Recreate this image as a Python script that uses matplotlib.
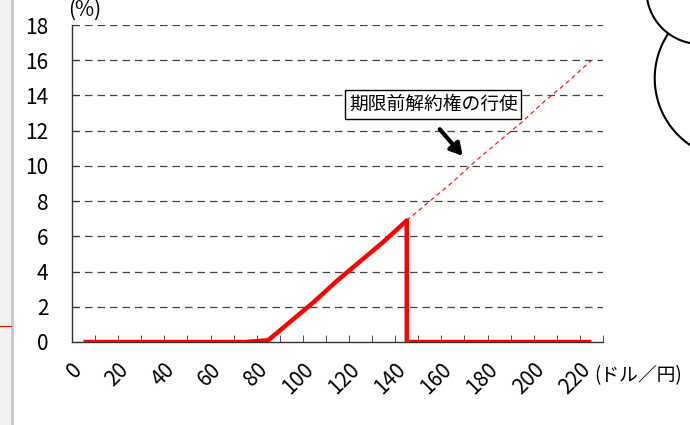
import numpy as np
import matplotlib.pyplot as plt
from matplotlib.lines import Line2D
from matplotlib.transforms import ScaledTranslation

plt.rcParams['font.family'] = ['Liberation Sans Narrow', 'Noto Sans CJK JP', 'DejaVu Sans']

# exchange rate categories (ドル／円)
rates = list(range(0, 230, 10))
tick_labels = [str(r) if r % 20 == 0 else '' for r in rates]

# solid line: value of the option, drops to 0 at 140 (early termination)
line_x = [0, 10, 20, 30, 40, 50, 60, 70, 80, 90, 100, 110, 120, 130, 140,
          140, 150, 160, 170, 180, 190, 200, 210, 220]
line_y = [0, 0, 0, 0, 0, 0, 0, 0, 0.1, 1.2, 2.3, 3.5, 4.6, 5.7, 6.9,
          0, 0, 0, 0, 0, 0, 0, 0, 0]

# dashed continuation without early termination
dash_x = [140, 150, 160, 170, 180, 190, 200, 210, 220]
dash_y = [6.9, 8.0, 9.1, 10.3, 11.4, 12.5, 13.7, 14.8, 16.0]


def idx(vals):
    return [v / 10 for v in vals]


fig = plt.figure(figsize=(6.9, 4.25), dpi=100)
ax = fig.add_axes([72 / 690, 1 - 342 / 425, 531 / 690, 317 / 425])

ax.plot(idx(dash_x), dash_y, color='red', lw=0.8, ls=(0, (4, 3)), zorder=2)
ax.plot(idx(line_x), line_y, color='red', lw=3.2, solid_capstyle='butt', zorder=3)

ax.set_xlim(-0.5, 22.5)
ax.set_ylim(0, 18)
ax.set_yticks(np.arange(0, 19, 2))
ax.tick_params(axis='y', direction='in', length=5, labelsize=15, pad=17, color='#333333')
ax.set_xticks(np.arange(len(rates)))
ax.set_xticklabels(tick_labels, rotation=45, ha='right', va='top',
                   rotation_mode='anchor', fontsize=15)
ax.tick_params(axis='x', which='major', length=0, pad=12)
ax.set_xticks(np.arange(-0.5, 23, 1), minor=True)
ax.tick_params(axis='x', which='minor', direction='in', length=5, color='#333333')
shift = ScaledTranslation(-0.12, 0, fig.dpi_scale_trans)
for lab in ax.get_xticklabels():
    lab.set_transform(lab.get_transform() + shift)

for v in range(2, 19, 2):
    ax.axhline(v, color='#444444', lw=0.9, ls=(0, (6, 4)), zorder=1)

for s in ['top', 'right']:
    ax.spines[s].set_visible(False)
for s in ['left', 'bottom']:
    ax.spines[s].set_color('#333333')
    ax.spines[s].set_linewidth(1)

ax.text(15.15, 13.5, '期限前解約権の行使', fontsize=13.5, ha='center', va='center',
        family=['Noto Sans CJK JP', 'DejaVu Sans'],
        bbox=dict(boxstyle='square,pad=0.2', fc='white', ec='black', lw=1), zorder=5)
ax.annotate('', xy=(16.5, 10.45), xytext=(15.35, 12.2),
            arrowprops=dict(arrowstyle='-|>,head_length=0.7,head_width=0.4',
                            color='black', lw=3), zorder=5)

fig.text(68 / 690, 1 - 10 / 425, '(%)', fontsize=15, ha='left', va='center')
fig.text(594 / 690, 1 - 376 / 425, '(ドル／円)', fontsize=13.5, ha='left', va='center',
         family=['Noto Sans CJK JP', 'DejaVu Sans'])


# decorative speech-bubble arcs on the right edge
def circle_arc(p1, p2, p3, n=60):
    (x1, y1), (x2, y2), (x3, y3) = p1, p2, p3
    d = 2 * (x1 * (y2 - y3) + x2 * (y3 - y1) + x3 * (y1 - y2))
    ux = ((x1**2 + y1**2) * (y2 - y3) + (x2**2 + y2**2) * (y3 - y1) + (x3**2 + y3**2) * (y1 - y2)) / d
    uy = ((x1**2 + y1**2) * (x3 - x2) + (x2**2 + y2**2) * (x1 - x3) + (x3**2 + y3**2) * (x2 - x1)) / d
    r = np.hypot(x1 - ux, y1 - uy)
    a1 = np.arctan2(y1 - uy, x1 - ux)
    a2 = np.arctan2(y2 - uy, x2 - ux)
    a3 = np.arctan2(y3 - uy, x3 - ux)

    def unwrap(a, ref):
        while a < ref:
            a += 2 * np.pi
        return a
    b2 = unwrap(a2, a1)
    b3 = unwrap(a3, a1)
    if b2 > b3:
        b3 -= 2 * np.pi
    t = np.linspace(a1, b3, n)
    return ux + r * np.cos(t), uy + r * np.sin(t)


for pts in [((647, -2), (662, 28), (690, 43)), ((668, 34), (655, 85), (690, 145))]:
    xs, ys = circle_arc(*pts)
    fig.add_artist(Line2D(xs / 690, 1 - ys / 425, color='black', lw=1.5))

# slide edge on the left
fig.patches.append(plt.Rectangle((0, 0), 11 / 690, 1, transform=fig.transFigure,
                                 fc='#f2f2f2', ec='none'))
fig.add_artist(Line2D([12 / 690, 12 / 690], [0, 1], color='#c8c8c8', lw=2))
fig.add_artist(Line2D([0, 11 / 690], [1 - 326 / 425, 1 - 326 / 425], color='red', lw=0.8))

fig.savefig('out.png', dpi=100)
